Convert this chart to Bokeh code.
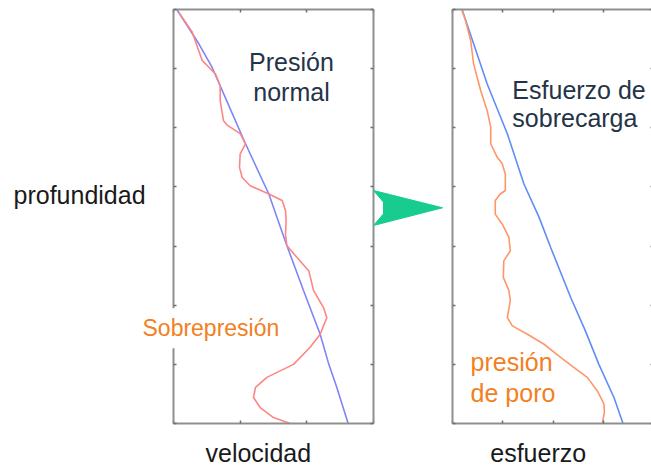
from bokeh.plotting import figure
from bokeh.models import Range1d, LinearAxis, FixedTicker, Label
from bokeh.embed import file_html
from bokeh.resources import INLINE

# ---- velocity panel (depth 0 at top .. 7 at bottom) ----
# normal compaction trend
vel_trend_depth = [0.0, 0.58, 0.98, 1.60, 2.27, 3.12, 3.51, 3.99, 4.75, 5.49, 6.00, 6.39, 7.00]
vel_trend = [0.05, 0.38, 0.58, 0.82, 1.08, 1.43, 1.55, 1.70, 1.95, 2.20, 2.33, 2.45, 2.62]

# measured interval velocity
vel_obs_depth = [0.05, 0.38, 0.64, 0.86, 1.09, 1.29, 1.54, 1.88, 1.96, 2.10, 2.27, 2.44,
                 2.67, 2.84, 2.98, 3.12, 3.23, 3.40, 3.57, 3.80, 3.99, 4.19, 4.42, 4.75,
                 5.04, 5.21, 5.49, 5.71, 6.00, 6.22, 6.39, 6.56, 6.73, 6.90, 7.00]
vel_obs = [0.08, 0.28, 0.36, 0.43, 0.63, 0.70, 0.70, 0.75, 0.81, 1.00, 1.08, 1.00,
           0.99, 1.03, 1.15, 1.43, 1.63, 1.68, 1.69, 1.68, 1.70, 1.85, 2.03, 2.10,
           2.25, 2.30, 2.20, 2.05, 1.80, 1.40, 1.23, 1.20, 1.30, 1.50, 1.75]

# ---- stress panel ----
overburden_depth = [0.0, 0.58, 1.26, 2.10, 2.95, 3.51, 4.02, 4.87, 5.43, 6.00, 6.56, 7.00]
overburden = [0.19, 0.42, 0.69, 1.09, 1.42, 1.72, 1.95, 2.35, 2.64, 2.91, 3.21, 3.39]

pore_depth = [0.02, 0.19, 0.52, 0.92, 1.37, 1.71, 1.99, 2.27, 2.50, 2.61, 2.78, 3.06,
              3.12, 3.23, 3.46, 3.63, 3.85, 4.08, 4.25, 4.53, 4.75, 4.92, 5.21, 5.35,
              5.49, 5.66, 5.88, 6.05, 6.22, 6.45, 6.67, 6.81, 7.00]
pore_pressure = [0.19, 0.26, 0.36, 0.42, 0.56, 0.69, 0.76, 0.76, 0.89, 0.99, 1.05, 1.05,
                 0.95, 0.85, 0.85, 0.99, 1.12, 1.15, 1.02, 1.01, 1.12, 1.15, 1.09, 1.19,
                 1.49, 1.82, 2.15, 2.41, 2.68, 2.88, 3.01, 3.02, 2.98]

depth_ticks = [0, 1, 2, 3, 4, 5, 6, 7]
vel_ticks = [0, 1, 2, 3]
stress_ticks = [0, 1, 2, 3, 4]

FONT = "Liberation Sans"
FRAME = "#8f8f8f"
W, H = 651, 467

# one canvas holds both panels; velocity uses the default x scale,
# stress a second x scale, both share the depth scale
VX0, VPX = 173, 200 / 3          # velocity origin (px) and px per unit
SX0, SPX = 452, 50.3             # stress origin (px) and px per unit
DY0, DPX = 9, 414 / 7            # depth origin (px) and px per unit

p = figure(width=W, height=H, toolbar_location=None, output_backend="svg",
           x_range=Range1d(-VX0 / VPX, (W - VX0) / VPX),
           y_range=Range1d((H - DY0) / DPX, -DY0 / DPX),
           min_border=0)
p.extra_x_ranges = {"stress": Range1d(-SX0 / SPX, (W - SX0) / SPX)}
p.grid.visible = False
p.outline_line_color = None
p.background_fill_color = "white"


def style(ax, ticks):
    ax.ticker = FixedTicker(ticks=ticks)
    ax.major_label_overrides = {t: "" for t in ticks}
    ax.major_label_text_color = None
    ax.major_label_text_font_size = "1px"
    ax.major_label_standoff = 0
    ax.major_tick_in = 3
    ax.major_tick_out = 0
    ax.minor_tick_in = 0
    ax.minor_tick_out = 0
    ax.axis_line_color = FRAME
    ax.axis_line_width = 2
    ax.major_tick_line_color = "#6f6f6f"
    ax.major_tick_line_width = 1.5


# velocity panel frame
bottom_v = p.xaxis[0]
bottom_v.fixed_location = 7
bottom_v.bounds = (0, 3)
style(bottom_v, vel_ticks)
left_v = p.yaxis[0]
left_v.fixed_location = 0
left_v.bounds = (0, 7)
style(left_v, depth_ticks)
top_v = LinearAxis(fixed_location=0, bounds=(0, 3))
style(top_v, vel_ticks)
p.add_layout(top_v, "above")
right_v = LinearAxis(fixed_location=3, bounds=(0, 7))
style(right_v, depth_ticks)
p.add_layout(right_v, "right")

# stress panel frame
bottom_s = LinearAxis(x_range_name="stress", fixed_location=7, bounds=(0, 4))
style(bottom_s, stress_ticks)
p.add_layout(bottom_s, "below")
top_s = LinearAxis(x_range_name="stress", fixed_location=0, bounds=(0, 4))
style(top_s, stress_ticks)
p.add_layout(top_s, "above")
left_s = LinearAxis(x_range_name="stress", fixed_location=0, bounds=(0, 7))
style(left_s, depth_ticks)
p.add_layout(left_s, "left")
right_s = LinearAxis(x_range_name="stress", fixed_location=4, bounds=(0, 7))
style(right_s, depth_ticks)
p.add_layout(right_s, "right")

# curves
p.line(vel_trend, vel_trend_depth, line_color="#7d86f7", line_width=1.6)
p.line(vel_obs, vel_obs_depth, line_color="#ff8585", line_width=1.6)
p.line(overburden, overburden_depth, x_range_name="stress", line_color="#5e8ef5", line_width=1.6)
p.line(pore_pressure, pore_depth, x_range_name="stress", line_color="#ff966a", line_width=1.6)

# arrow from the velocity panel to the stress panel
arrow_x = [3.0, 4.035, 3.0, 3.15, 3.15]
arrow_y = [3.06, 3.353, 3.652, 3.455, 3.258]
arr = p.patch(arrow_x, arrow_y, fill_color="#18cc90", line_color="#18cc90", line_width=1)
arr.level = "annotation"


def label(x, y, text, color="#1a1a1a", align="left", size="25px", **kw):
    p.add_layout(Label(x=x, y=y, text=text, text_font=FONT, text_font_size=size,
                       text_color=color, text_align=align, text_baseline="alphabetic", **kw))


label(1.77, 0.88, "Presión", color="#243447", align="center")
label(1.77, 1.39, "normal", color="#243447", align="center")
label(-0.57, 5.39, "Sobrepresión", color="#f28022", size="23px",
      background_fill_color="white", padding=7)
label(-2.40, 3.14, "profundidad")
label(0.48, 7.50, "velocidad")
label(1.19, 1.36, "Esfuerzo de", color="#243447", x_range_name="stress")
label(1.19, 1.84, "sobrecarga", color="#243447", x_range_name="stress")
label(0.36, 5.96, "presión", color="#f28022", x_range_name="stress")
label(0.36, 6.49, "de poro", color="#f28022", x_range_name="stress")
label(0.75, 7.50, "esfuerzo", x_range_name="stress")

open("out.html", "w").write(file_html(p, INLINE))
